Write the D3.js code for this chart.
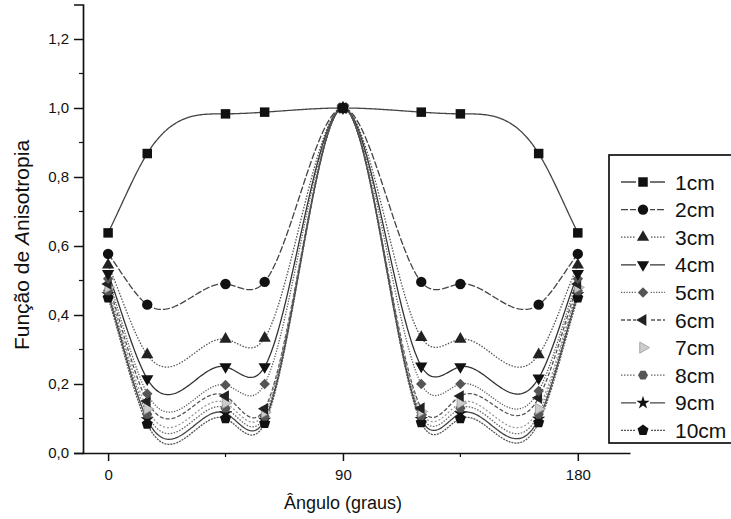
<!DOCTYPE html>
<html>
<head>
<meta charset="utf-8">
<script src="https://cdn.jsdelivr.net/npm/d3@7"></script>
<style>
  html, body { margin: 0; padding: 0; background: #fff; }
  svg { display: block; }
  text { font-family: "Liberation Sans", Arial, sans-serif; fill: #111; }
</style>
</head>
<body>
<svg id="chart" width="731" height="519"></svg>
<script>
// Anisotropy function vs. angle for source distances 1–10 cm
const angles = [0, 15, 45, 60, 90, 120, 135, 165, 180];
const seriesNames = ["1cm", "2cm", "3cm", "4cm", "5cm", "6cm", "7cm", "8cm", "9cm", "10cm"];
const f1cm  = [0.638, 0.868, 0.983, 0.988, 1.0, 0.988, 0.983, 0.868, 0.638];
const f2cm  = [0.577, 0.430, 0.490, 0.496, 1.0, 0.496, 0.490, 0.430, 0.577];
const f3cm  = [0.545, 0.285, 0.330, 0.333, 1.0, 0.335, 0.330, 0.285, 0.545];
const f4cm  = [0.520, 0.215, 0.250, 0.250, 1.0, 0.252, 0.250, 0.217, 0.520];
const f5cm  = [0.505, 0.172, 0.197, 0.200, 1.0, 0.200, 0.200, 0.180, 0.505];
const f6cm  = [0.490, 0.150, 0.165, 0.128, 1.0, 0.130, 0.165, 0.160, 0.490];
const f7cm  = [0.480, 0.128, 0.145, 0.118, 1.0, 0.120, 0.145, 0.128, 0.480];
const f8cm  = [0.470, 0.112, 0.130, 0.106, 1.0, 0.108, 0.130, 0.112, 0.470];
const f9cm  = [0.460, 0.097, 0.115, 0.096, 1.0, 0.098, 0.115, 0.099, 0.460];
const f10cm = [0.450, 0.084, 0.100, 0.086, 1.0, 0.088, 0.100, 0.088, 0.450];
const seriesValues = [f1cm, f2cm, f3cm, f4cm, f5cm, f6cm, f7cm, f8cm, f9cm, f10cm];
const yTickValues = [0, 0.2, 0.4, 0.6, 0.8, 1.0, 1.2];
const yMinorValues = [0.1, 0.3, 0.5, 0.7, 0.9, 1.1];
const xTickValues = [0, 90, 180];
const xMinorValues = [45, 135];

// regular polygon symbols (hexagon, pentagon)
function polygon(n, rot) {
  return {
    draw(ctx, size) {
      const r = Math.sqrt(size / (n / 2 * Math.sin(2 * Math.PI / n)));
      for (let i = 0; i < n; i++) {
        const a = rot + i * 2 * Math.PI / n;
        const px = r * Math.cos(a), py = r * Math.sin(a);
        if (i === 0) ctx.moveTo(px, py); else ctx.lineTo(px, py);
      }
      ctx.closePath();
    }
  };
}
const hexagon = polygon(6, 0);
const pentagon = polygon(5, -Math.PI / 2);

const styles = [
  { sym: d3.symbolSquare,   size: 90, rot: 0,   fill: "#111", dash: null,      stroke: "#444" },
  { sym: d3.symbolCircle,   size: 85, rot: 0,   fill: "#111", dash: "7,2",     stroke: "#444" },
  { sym: d3.symbolTriangle, size: 65, rot: 0,   fill: "#222", dash: "1.5,1.5", stroke: "#555" },
  { sym: d3.symbolTriangle, size: 65, rot: 180, fill: "#111", dash: null,      stroke: "#333" },
  { sym: d3.symbolSquare,   size: 55, rot: 45,  fill: "#555", dash: "1.2,1.5", stroke: "#555" },
  { sym: d3.symbolTriangle, size: 60, rot: -90, fill: "#222", dash: "4,2",     stroke: "#555" },
  { sym: d3.symbolTriangle, size: 55, rot: 90,  fill: "#ccc", dash: "2,2",     stroke: "#999" },
  { sym: hexagon,           size: 65, rot: 0,   fill: "#555", dash: "1.5,1.5", stroke: "#666" },
  { sym: d3.symbolStar,     size: 55, rot: 0,   fill: "#111", dash: null,      stroke: "#444" },
  { sym: pentagon,          size: 80, rot: 0,   fill: "#111", dash: "2,1",     stroke: "#555" }
];

// cubic spline y = f(x); end slopes clamped to the end secants
function cubicSpline(xs, ys) {
  const n = xs.length;
  const h = [], s = [];
  for (let i = 0; i < n - 1; i++) {
    h.push(xs[i + 1] - xs[i]);
    s.push((ys[i + 1] - ys[i]) / h[i]);
  }
  // tridiagonal system for second derivatives M
  const a = new Array(n).fill(0), b = new Array(n).fill(0),
        c = new Array(n).fill(0), r = new Array(n).fill(0);
  b[0] = 2 * h[0]; c[0] = h[0]; r[0] = 0;
  for (let i = 1; i < n - 1; i++) {
    a[i] = h[i - 1]; b[i] = 2 * (h[i - 1] + h[i]); c[i] = h[i];
    r[i] = 6 * (s[i] - s[i - 1]);
  }
  a[n - 1] = h[n - 2]; b[n - 1] = 2 * h[n - 2]; r[n - 1] = 0;
  for (let i = 1; i < n; i++) {
    const m = a[i] / b[i - 1];
    b[i] -= m * c[i - 1];
    r[i] -= m * r[i - 1];
  }
  const M = new Array(n);
  M[n - 1] = r[n - 1] / b[n - 1];
  for (let i = n - 2; i >= 0; i--) M[i] = (r[i] - c[i] * M[i + 1]) / b[i];
  return function (xv) {
    let j = 0;
    while (j < n - 2 && xv > xs[j + 1]) j++;
    const hj = h[j], A = xs[j + 1] - xv, B = xv - xs[j];
    return M[j] * A * A * A / (6 * hj) + M[j + 1] * B * B * B / (6 * hj)
      + (ys[j] / hj - M[j] * hj / 6) * A + (ys[j + 1] / hj - M[j + 1] * hj / 6) * B;
  };
}

const svg = d3.select("#chart");
const x = d3.scaleLinear().domain([-10, 200]).range([82, 630]);
const y = d3.scaleLinear().domain([0, 1.3]).range([453, 4.5]);

// curves
const line = d3.line().x(d => x(d[0])).y(d => y(d[1]));
const curves = svg.append("g").attr("fill", "none");
seriesValues.forEach((vals, i) => {
  const f = cubicSpline(angles, vals);
  const pts = [];
  for (let a = angles[0]; a <= angles[angles.length - 1] + 1e-9; a += 0.5) pts.push([a, f(a)]);
  curves.append("path")
    .datum(pts)
    .attr("d", line)
    .attr("stroke", styles[i].stroke)
    .attr("stroke-width", 1.3)
    .attr("stroke-dasharray", styles[i].dash);
});

// markers (last series first so 1cm stays on top)
const markers = svg.append("g");
for (let i = seriesValues.length - 1; i >= 0; i--) {
  const st = styles[i];
  const sym = d3.symbol().type(st.sym).size(st.size);
  markers.selectAll(null)
    .data(angles.map((a, k) => [a, seriesValues[i][k]]))
    .join("path")
    .attr("d", sym)
    .attr("transform", d => `translate(${x(d[0])},${y(d[1])}) rotate(${st.rot})`)
    .attr("fill", st.fill)
    .attr("stroke", i === 6 ? "#999" : "none")
    .attr("stroke-width", 0.8);
}

// y axis
const yAxis = svg.append("g").attr("transform", `translate(${x(-10) + 1},0)`);
yAxis.call(d3.axisLeft(y).tickValues(yTickValues).tickSize(9).tickPadding(5)
  .tickFormat(d => d3.format(".1f")(d).replace(".", ",")));
yAxis.selectAll(".tick line").attr("stroke", "#111").attr("stroke-width", 1.5);
yAxis.select(".domain").attr("stroke", "#111").attr("stroke-width", 1.7);
yAxis.selectAll(".tick text").attr("font-size", 15).attr("fill", "#111")
  .attr("font-family", "'Liberation Sans', Arial, sans-serif");
yAxis.selectAll(".minor").data(yMinorValues).join("line")
  .attr("x1", -4).attr("x2", 0).attr("y1", d => y(d)).attr("y2", d => y(d))
  .attr("stroke", "#111").attr("stroke-width", 1.2);

// x axis
const xAxis = svg.append("g").attr("transform", `translate(0,${y(0)})`);
xAxis.call(d3.axisBottom(x).tickValues(xTickValues).tickSize(8).tickPadding(8).tickSizeOuter(0));
xAxis.selectAll(".tick line").attr("stroke", "#111").attr("stroke-width", 1.5);
xAxis.select(".domain").attr("stroke", "#111").attr("stroke-width", 1.7);
xAxis.selectAll(".tick text").attr("font-size", 15).attr("fill", "#111")
  .attr("font-family", "'Liberation Sans', Arial, sans-serif");
xAxis.selectAll(".minor").data(xMinorValues).join("line")
  .attr("x1", d => x(d)).attr("x2", d => x(d)).attr("y1", 0).attr("y2", 4)
  .attr("stroke", "#111").attr("stroke-width", 1.2);

// axis titles
svg.append("text")
  .attr("x", x(90)).attr("y", 509)
  .attr("text-anchor", "middle").attr("font-size", 18)
  .text("Ângulo (graus)");
const yt = svg.append("text")
  .attr("transform", `translate(29,${y(0.6) - 1}) rotate(-90)`)
  .attr("text-anchor", "middle").attr("font-size", 21);
yt.append("tspan").text("Função de ");
yt.append("tspan").attr("font-style", "italic").text("A");
yt.append("tspan").text("nisotropia");

// legend
const lg = svg.append("g");
lg.append("rect")
  .attr("x", 609).attr("y", 155).attr("width", 140).attr("height", 288)
  .attr("fill", "#fff").attr("stroke", "#111").attr("stroke-width", 1.7);
seriesNames.forEach((name, i) => {
  const st = styles[i];
  const cy = 182 + i * 27.6;
  if (i !== 6) {
    lg.append("line").attr("x1", 621).attr("x2", 665).attr("y1", cy).attr("y2", cy)
      .attr("stroke", st.stroke).attr("stroke-width", 1.3).attr("stroke-dasharray", st.dash);
  }
  lg.append("rect").attr("x", 636).attr("y", cy - 7).attr("width", 14).attr("height", 14)
    .attr("fill", "#fff");
  lg.append("path")
    .attr("d", d3.symbol().type(st.sym).size(st.size)())
    .attr("transform", `translate(643,${cy}) rotate(${st.rot})`)
    .attr("fill", st.fill)
    .attr("stroke", i === 6 ? "#999" : "none").attr("stroke-width", 0.8);
  lg.append("text").attr("x", 675).attr("y", cy + 7.5)
    .attr("font-size", 21).text(name);
});
</script>
</body>
</html>
